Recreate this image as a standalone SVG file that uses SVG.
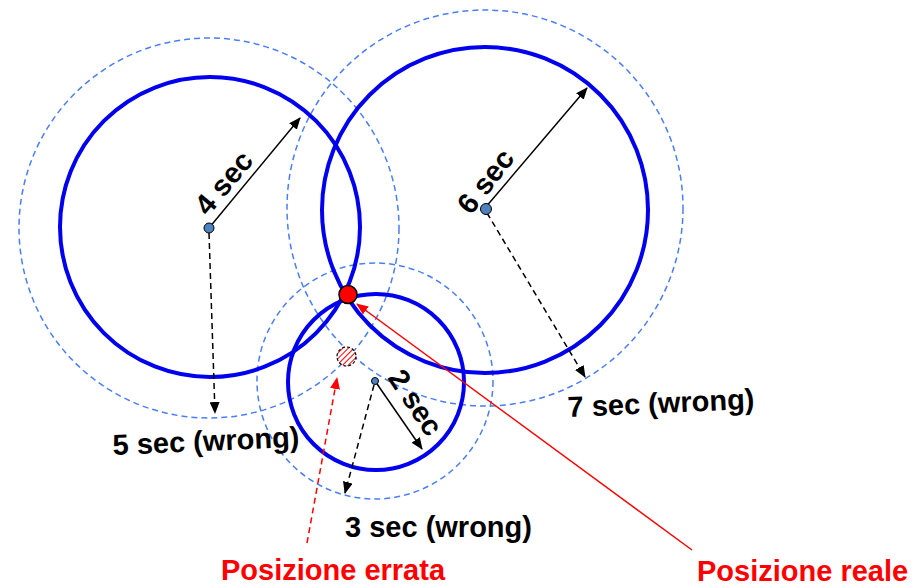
<svg xmlns="http://www.w3.org/2000/svg" width="922" height="587" viewBox="0 0 922 587">
<style>
.solid{fill:none;stroke:#0000ee;stroke-width:4}
.dash{fill:none;stroke:#4a7ef5;stroke-width:1.5;stroke-dasharray:6 4}
.arr{stroke:#000;stroke-width:1.5;fill:none}
.arrd{stroke:#000;stroke-width:1.5;fill:none;stroke-dasharray:6 4}
.lbl{font-family:"Liberation Sans",Arial,sans-serif;font-weight:bold;font-size:29px;fill:#000}
.red{font-family:"Liberation Sans",Arial,sans-serif;font-weight:bold;font-size:29px;fill:#ff0000}
.ctr{fill:#4f81bd;stroke:#000;stroke-width:1}
</style>
<defs>
<marker id="ah" markerWidth="12" markerHeight="10" refX="11" refY="5" orient="auto" markerUnits="userSpaceOnUse">
<path d="M0,0 L12,5 L0,10 Z" fill="#000"/>
</marker>
<marker id="ahr" markerWidth="12" markerHeight="10" refX="11" refY="5" orient="auto" markerUnits="userSpaceOnUse">
<path d="M0,0 L12,5 L0,10 Z" fill="#ff0000"/>
</marker>
<pattern id="hatch" patternUnits="userSpaceOnUse" width="4" height="4" patternTransform="rotate(45)">
<rect width="4" height="4" fill="#fff"/>
<line x1="0" y1="0" x2="0" y2="4" stroke="#ff0000" stroke-width="2"/>
</pattern>
</defs>
<rect width="922" height="587" fill="#fff"/>

<g id="circles">
<circle class="dash" cx="209" cy="228" r="190"/>
<circle class="dash" cx="485" cy="208" r="198"/>
<circle class="dash" cx="375" cy="381" r="118"/>
<circle class="solid" cx="210" cy="227" r="150"/>
<circle class="solid" cx="485" cy="210" r="163"/>
<circle class="solid" cx="376" cy="382" r="88"/>
</g>

<g id="connectors">
<line class="arr" x1="209" y1="228" x2="300" y2="118" marker-end="url(#ah)"/>
<line class="arrd" x1="209" y1="233" x2="215" y2="413" marker-end="url(#ah)"/>
<line class="arr" x1="485" y1="208" x2="587" y2="88" marker-end="url(#ah)"/>
<line class="arrd" x1="487" y1="213" x2="585" y2="377" marker-end="url(#ah)"/>
<line class="arr" x1="375" y1="381" x2="422" y2="449" marker-end="url(#ah)"/>
<line class="arrd" x1="374" y1="385" x2="345" y2="493" marker-end="url(#ah)"/>
<line x1="692" y1="550" x2="357" y2="304" stroke="#ff0000" stroke-width="1.5" marker-end="url(#ahr)"/>
<line x1="307" y1="543" x2="337" y2="378" stroke="#ff0000" stroke-width="1.5" stroke-dasharray="6 4" marker-end="url(#ahr)"/>
</g>

<g id="node-4sec">
<circle class="ctr" cx="209" cy="228" r="5"/>
<text class="lbl" transform="translate(208,217) rotate(-50)">4 sec</text>
</g>
<g id="node-6sec">
<circle class="ctr" cx="486" cy="209" r="5.5"/>
<text class="lbl" transform="translate(471,216) rotate(-52)">6 sec</text>
</g>
<g id="node-2sec">
<circle class="ctr" cx="375" cy="381" r="3.5"/>
<text class="lbl" transform="translate(387,378) rotate(56)">2 sec</text>
</g>
<g id="node-real">
<circle cx="348" cy="294.5" r="9" fill="#ff0000" stroke="#000" stroke-width="1.5"/>
</g>
<g id="node-wrong">
<circle cx="346.5" cy="356.5" r="9.5" fill="url(#hatch)" stroke="#000" stroke-width="1.2" stroke-dasharray="3 2"/>
</g>

<g id="labels">
<text class="lbl" transform="translate(113,455) rotate(-2.5)">5 sec (wrong)</text>
<text class="lbl" transform="translate(568,417) rotate(-2.5)">7 sec (wrong)</text>
<text class="lbl" x="345" y="537">3 sec (wrong)</text>
<text class="red" x="221" y="580">Posizione errata</text>
<text class="red" x="697" y="581">Posizione reale</text>
</g>
</svg>
